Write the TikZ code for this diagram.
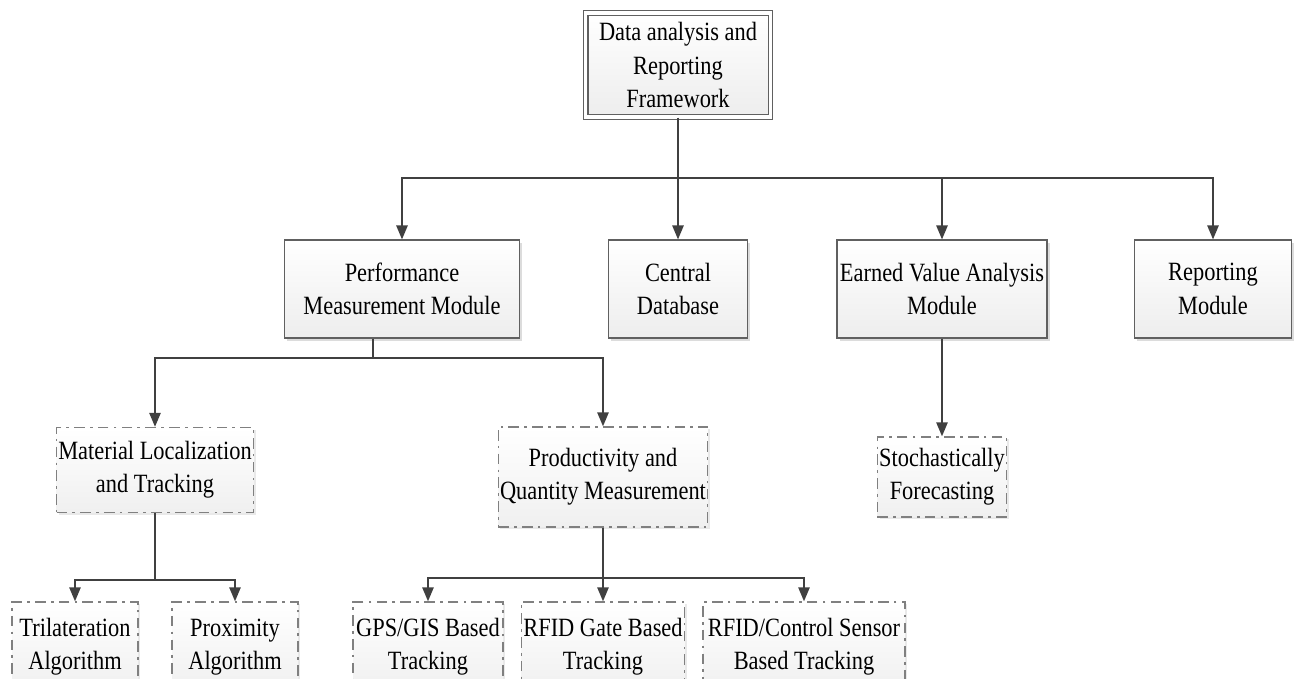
\documentclass[tikz,border=0pt]{standalone}
\usepackage{fontspec}
\setmainfont{Liberation Serif}[FakeStretch=0.85]
\usetikzlibrary{arrows.meta,shadows}

\begin{document}
\begin{tikzpicture}[x=0.02cm, y=-0.02cm,
    every node/.style={font=\fontsize{15}{19}\selectfont, align=center, inner sep=1pt},
    box/.style={draw=gray!75!black, line width=0.7pt, top color=white, bottom color=gray!14,
        drop shadow={shadow xshift=1.5pt, shadow yshift=-1.5pt, fill=gray!60, opacity=0.45}},
    subbox/.style={draw=gray, line width=0.8pt, dash pattern=on 6pt off 3pt on 1.5pt off 3pt,
        top color=white, bottom color=gray!12,
        drop shadow={shadow xshift=1.2pt, shadow yshift=-1.2pt, fill=gray!50, opacity=0.35}},
    link/.style={draw=black!75, line width=0.9pt},
    conn/.style={link, -{Triangle[length=8pt,width=6.5pt]}}]
    \useasboundingbox (0,0) rectangle (1298,679);
    \clip (0,0) rectangle (1298,679);

    % Top box
    \node[box, double=white, double distance=2pt, minimum width=3.7cm, minimum height=2.08cm] (frame) at (678,65)
        {Data analysis and\\Reporting\\Framework};

    % Modules
    \node[box, minimum width=4.7cm, minimum height=1.96cm] (perf) at (402,289) {Performance\\Measurement Module};
    \node[box, minimum width=2.78cm, minimum height=1.96cm] (cdb) at (678,289) {Central\\Database};
    \node[box, minimum width=4.2cm, minimum height=1.96cm] (eva) at (942,289) {Earned Value Analysis\\Module};
    \node[box, minimum width=3.14cm, minimum height=1.96cm] (rep) at (1213,289) {Reporting\\Module};

    % Sub modules
    \node[subbox, minimum width=3.88cm, minimum height=1.7cm] (mlt) at (155,470) {Material Localization\\and Tracking};
    \node[subbox, minimum width=4.02cm, minimum height=2cm] (pqm) at (603,477) {Productivity and\\Quantity Measurement};
    \node[subbox, minimum width=2.52cm, minimum height=1.6cm] (sfc) at (942,477) {Stochastically\\Forecasting};

    % Methods
    \node[subbox, minimum width=2.52cm, minimum height=1.8cm] (tri) at (75,647) {Trilateration\\Algorithm};
    \node[subbox, minimum width=2.52cm, minimum height=1.8cm] (prox) at (235,647) {Proximity\\Algorithm};
    \node[subbox, minimum width=3cm, minimum height=1.8cm] (gps) at (428,647) {GPS/GIS Based\\Tracking};
    \node[subbox, minimum width=2.98cm, minimum height=1.8cm] (gate) at (603,647) {RFID Gate Based\\Tracking};
    \node[subbox, minimum width=4.04cm, minimum height=1.8cm] (ctrl) at (804,647) {RFID/Control Sensor\\Based Tracking};

    % Bus points
    \coordinate (busA) at (678,178);
    \coordinate (busB) at (373,358);
    \coordinate (busC) at (155,580);
    \coordinate (busD) at (603,578);

    % Connectors
    \draw[conn] (frame.south) -- (cdb.north);
    \draw[conn] (busA) -| (perf.north);
    \draw[conn] (busA) -| (eva.north);
    \draw[conn] (busA) -| (rep.north);

    \draw[link] (perf.south -| busB) -- (busB);
    \draw[conn] (busB) -| (mlt.north);
    \draw[conn] (busB) -| (pqm.north);
    \draw[conn] (eva.south) -- (sfc.north);

    \draw[link] (mlt.south) -- (busC);
    \draw[conn] (busC) -| (tri.north);
    \draw[conn] (busC) -| (prox.north);

    \draw[link] (pqm.south) -- (busD);
    \draw[conn] (busD) -| (gps.north);
    \draw[conn] (busD) -- (gate.north);
    \draw[conn] (busD) -| (ctrl.north);
\end{tikzpicture}
\end{document}
